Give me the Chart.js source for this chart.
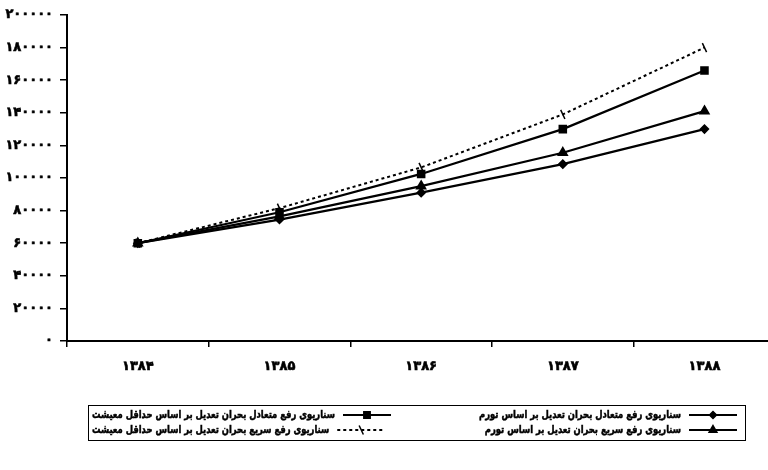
<!DOCTYPE html>
<html lang="fa">
<head>
<meta charset="utf-8">
<script src="https://cdn.jsdelivr.net/npm/chart.js@4.4.1/dist/chart.umd.min.js"></script>
<style>
  html, body { margin: 0; padding: 0; background: #fff; overflow: hidden; }
  /* a little wider than the window: the x axis runs off the right edge */
  #wrap { width: 782px; height: 470px; position: relative; }
</style>
</head>
<body>
<div id="wrap"><canvas id="scenarios"></canvas></div>
<script>
const ctx = document.getElementById("scenarios");

// years (1384..1388)
const years = ["۱۳۸۴", "۱۳۸۵", "۱۳۸۶", "۱۳۸۷", "۱۳۸۸"];
const yTickLabels = ["۰", "۲۰۰۰۰", "۴۰۰۰۰", "۶۰۰۰۰", "۸۰۰۰۰", "۱۰۰۰۰۰",
  "۱۲۰۰۰۰", "۱۴۰۰۰۰", "۱۶۰۰۰۰", "۱۸۰۰۰۰", "۲۰۰۰۰۰"];

const labelBalancedInflation = "سناریوی رفع متعادل بحران تعدیل بر اساس تورم";
const labelBalancedLiving = "سناریوی رفع متعادل بحران تعدیل بر اساس حداقل معیشت";
const labelFastInflation = "سناریوی رفع سریع بحران تعدیل بر اساس تورم";
const labelFastLiving = "سناریوی رفع سریع بحران تعدیل بر اساس حداقل معیشت";

const balancedInflation = [60000, 74500, 91000, 108500, 130000];
const balancedLiving = [60000, 79000, 102500, 130000, 166000];
const fastInflation = [60000, 76500, 95000, 115500, 141000];
const fastLiving = [60000, 81500, 106500, 139000, 180000];

const font = "'DejaVu Sans', sans-serif";

// legend box under the chart: [column, row] for each dataset
const legendCells = [[1, 0], [0, 0], [1, 1], [0, 1]];

const boxedLegend = {
  id: "boxedLegend",
  afterDraw(chart) {
    const c = chart.ctx;
    const left = 88, right = 745, top = 405, bottom = 440;
    const rowY = [415, 430];
    c.save();
    c.strokeStyle = "#000";
    c.lineWidth = 1;
    c.strokeRect(left + 0.5, top + 0.5, right - left, bottom - top);
    c.font = "bold 11px " + font;
    c.fillStyle = "#000";
    c.textBaseline = "middle";
    c.textAlign = "right";
    c.direction = "rtl";
    // condense the text so the long label is about 243px wide
    const squeeze = 243 / c.measureText(labelBalancedLiving).width;
    chart.data.datasets.forEach((ds, i) => {
      const [col, row] = legendCells[i];
      const y = rowY[row];
      const w = c.measureText(ds.label).width * squeeze;
      let tx, sx;
      if (col === 0) {
        tx = left + 4;
        sx = tx + w + 8;
      } else {
        sx = right - 56;
        tx = sx - 8 - w;
      }
      c.save();
      c.translate(tx + w, y);
      c.scale(squeeze, 1);
      c.lineWidth = 0.5;
      c.fillText(ds.label, 0, 0);
      c.strokeText(ds.label, 0, 0);
      c.restore();
      c.save();
      c.lineWidth = ds.borderWidth;
      c.setLineDash(ds.borderDash || []);
      c.beginPath();
      c.moveTo(sx, y);
      c.lineTo(sx + 48, y);
      c.stroke();
      c.setLineDash([]);
      c.lineWidth = 1.5;
      Chart.helpers.drawPoint(c, {
        pointStyle: ds.pointStyle,
        radius: ds.pointRadius,
        rotation: ds.pointRotation || 0,
        borderWidth: 1.5,
      }, sx + 24, y);
      c.restore();
    });
    c.restore();
  },
};

const scenarioChart = new Chart(ctx, {
  type: "line",
  data: {
    labels: years,
    datasets: [
      {
        label: labelBalancedInflation,
        data: balancedInflation,
        borderColor: "#000",
        backgroundColor: "#000",
        borderWidth: 2.2,
        pointStyle: "rectRot",
        pointRadius: 3.5,
      },
      {
        label: labelBalancedLiving,
        data: balancedLiving,
        borderColor: "#000",
        backgroundColor: "#000",
        borderWidth: 2.2,
        pointStyle: "rect",
        pointRadius: 4.5,
      },
      {
        label: labelFastInflation,
        data: fastInflation,
        borderColor: "#000",
        backgroundColor: "#000",
        borderWidth: 2.2,
        pointStyle: "triangle",
        pointRadius: 4.5,
      },
      {
        label: labelFastLiving,
        data: fastLiving,
        borderColor: "#000",
        backgroundColor: "#000",
        borderWidth: 2,
        borderDash: [3, 3],
        pointStyle: "line",
        pointRadius: 5,
        pointRotation: 65,
        pointBorderWidth: 1.5,
      },
    ],
  },
  options: {
    responsive: true,
    maintainAspectRatio: false,
    animation: false,
    layout: {
      padding: { top: 15, bottom: 89, left: 0, right: 0 },
    },
    plugins: {
      legend: { display: false },
      tooltip: { enabled: false },
    },
    scales: {
      x: {
        type: "category",
        offset: true,
        afterFit(scale) {
          scale.height = 40;
        },
        border: { color: "#000", width: 2 },
        grid: {
          offset: true,
          drawOnChartArea: false,
          drawTicks: true,
          tickLength: 6,
          color: "#000",
          lineWidth: 1.5,
        },
        ticks: {
          color: "#000",
          padding: 12,
          textStrokeColor: "#000",
          textStrokeWidth: 0.6,
          font: { family: font, size: 13, weight: "bold" },
        },
      },
      y: {
        min: 0,
        max: 200000,
        afterFit(scale) {
          scale.width = 67;
        },
        border: { color: "#000", width: 2 },
        grid: {
          drawOnChartArea: false,
          drawTicks: true,
          tickLength: 7,
          color: "#000",
          lineWidth: 1.5,
        },
        ticks: {
          stepSize: 20000,
          color: "#000",
          padding: 7,
          textStrokeColor: "#000",
          textStrokeWidth: 0.6,
          font: { family: font, size: 13, weight: "bold" },
          callback: (value, i) => yTickLabels[i],
        },
      },
    },
  },
  plugins: [boxedLegend],
});
</script>
</body>
</html>
